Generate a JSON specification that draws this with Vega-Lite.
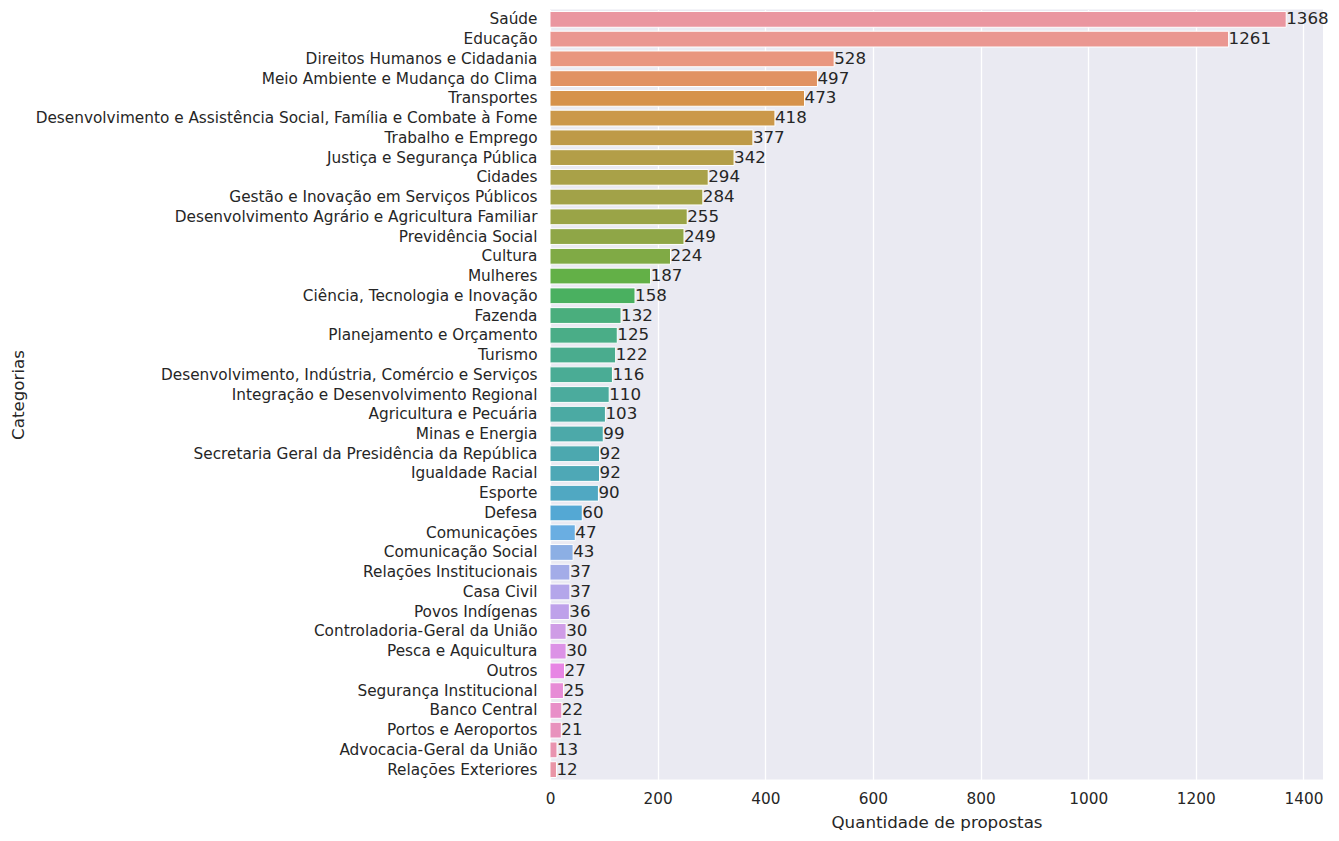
{
  "$schema": "https://vega.github.io/schema/vega-lite/v6.json",
  "width": 773,
  "height": 770,
  "autosize": "none",
  "padding": {"left": 550, "top": 9.5, "right": 16, "bottom": 61.5},
  "background": "white",
  "data": {"values": [
    {"categoria": "Saúde", "quantidade": 1368},
    {"categoria": "Educação", "quantidade": 1261},
    {"categoria": "Direitos Humanos e Cidadania", "quantidade": 528},
    {"categoria": "Meio Ambiente e Mudança do Clima", "quantidade": 497},
    {"categoria": "Transportes", "quantidade": 473},
    {"categoria": "Desenvolvimento e Assistência Social, Família e Combate à Fome", "quantidade": 418},
    {"categoria": "Trabalho e Emprego", "quantidade": 377},
    {"categoria": "Justiça e Segurança Pública", "quantidade": 342},
    {"categoria": "Cidades", "quantidade": 294},
    {"categoria": "Gestão e Inovação em Serviços Públicos", "quantidade": 284},
    {"categoria": "Desenvolvimento Agrário e Agricultura Familiar", "quantidade": 255},
    {"categoria": "Previdência Social", "quantidade": 249},
    {"categoria": "Cultura", "quantidade": 224},
    {"categoria": "Mulheres", "quantidade": 187},
    {"categoria": "Ciência, Tecnologia e Inovação", "quantidade": 158},
    {"categoria": "Fazenda", "quantidade": 132},
    {"categoria": "Planejamento e Orçamento", "quantidade": 125},
    {"categoria": "Turismo", "quantidade": 122},
    {"categoria": "Desenvolvimento, Indústria, Comércio e Serviços", "quantidade": 116},
    {"categoria": "Integração e Desenvolvimento Regional", "quantidade": 110},
    {"categoria": "Agricultura e Pecuária", "quantidade": 103},
    {"categoria": "Minas e Energia", "quantidade": 99},
    {"categoria": "Secretaria Geral da Presidência da República", "quantidade": 92},
    {"categoria": "Igualdade Racial", "quantidade": 92},
    {"categoria": "Esporte", "quantidade": 90},
    {"categoria": "Defesa", "quantidade": 60},
    {"categoria": "Comunicações", "quantidade": 47},
    {"categoria": "Comunicação Social", "quantidade": 43},
    {"categoria": "Relações Institucionais", "quantidade": 37},
    {"categoria": "Casa Civil", "quantidade": 37},
    {"categoria": "Povos Indígenas", "quantidade": 36},
    {"categoria": "Controladoria-Geral da União", "quantidade": 30},
    {"categoria": "Pesca e Aquicultura", "quantidade": 30},
    {"categoria": "Outros", "quantidade": 27},
    {"categoria": "Segurança Institucional", "quantidade": 25},
    {"categoria": "Banco Central", "quantidade": 22},
    {"categoria": "Portos e Aeroportos", "quantidade": 21},
    {"categoria": "Advocacia-Geral da União", "quantidade": 13},
    {"categoria": "Relações Exteriores", "quantidade": 12}
  ]},
  "encoding": {
    "y": {
      "field": "categoria", "type": "nominal", "sort": null,
      "scale": {"paddingInner": 0.2, "paddingOuter": 0.1},
      "axis": {
        "title": "Categorias", "ticks": false, "domain": false, "grid": false,
        "labelFont": "DejaVu Sans", "labelFontSize": 15.3, "labelColor": "#262626",
        "labelPadding": 13, "labelLimit": 0,
        "titleFont": "DejaVu Sans", "titleFontSize": 16.7, "titleFontWeight": "normal", "titleColor": "#262626",
        "titleX": -532, "titleY": 385, "titleAngle": 270, "titleBaseline": "middle", "titleAlign": "center"
      }
    },
    "x": {
      "field": "quantidade", "type": "quantitative",
      "scale": {"domain": [0, 1436.4], "nice": false, "zero": true},
      "axis": {
        "title": "Quantidade de propostas", "values": [0, 200, 400, 600, 800, 1000, 1200, 1400],
        "format": "d", "labelFlush": false, "labelOverlap": false,
        "ticks": false, "domain": false, "grid": true, "gridColor": "white", "gridWidth": 1.3,
        "labelFont": "DejaVu Sans", "labelFontSize": 15.3, "labelColor": "#262626", "labelPadding": 11.5,
        "titleFont": "DejaVu Sans", "titleFontSize": 16.7, "titleFontWeight": "normal", "titleColor": "#262626",
        "titleY": 42.5, "titleBaseline": "middle", "titleX": 386.5, "titleAlign": "center"
      }
    }
  },
  "layer": [
    {
      "mark": {"type": "bar", "stroke": "white", "strokeWidth": 1, "opacity": 1},
      "encoding": {
        "color": {
          "field": "categoria", "type": "nominal", "legend": null,
          "scale": {
            "domain": ["Saúde","Educação","Direitos Humanos e Cidadania","Meio Ambiente e Mudança do Clima","Transportes","Desenvolvimento e Assistência Social, Família e Combate à Fome","Trabalho e Emprego","Justiça e Segurança Pública","Cidades","Gestão e Inovação em Serviços Públicos","Desenvolvimento Agrário e Agricultura Familiar","Previdência Social","Cultura","Mulheres","Ciência, Tecnologia e Inovação","Fazenda","Planejamento e Orçamento","Turismo","Desenvolvimento, Indústria, Comércio e Serviços","Integração e Desenvolvimento Regional","Agricultura e Pecuária","Minas e Energia","Secretaria Geral da Presidência da República","Igualdade Racial","Esporte","Defesa","Comunicações","Comunicação Social","Relações Institucionais","Casa Civil","Povos Indígenas","Controladoria-Geral da União","Pesca e Aquicultura","Outros","Segurança Institucional","Banco Central","Portos e Aeroportos","Advocacia-Geral da União","Relações Exteriores"],
            "range": ["#EA96A0","#EA9791","#E9967F","#E19262","#D6924A","#CB984A","#BE9A48","#B39E48","#A9A148","#A2A248","#9AA447","#8FA647","#80AA45","#63B047","#4AB060","#4AAE7D","#4AAD87","#4AAC8E","#4AAC95","#4BAB9D","#4BAAA3","#4CA9A9","#4CA8AF","#4EA8B6","#50A8C2","#54A8D4","#6AAEE2","#8CAFE4","#A3ACE8","#B4A6EA","#BEA1EA","#CF9CE6","#DC92E6","#E786E4","#E78CD6","#E88FC8","#E892BD","#E994B0","#E995A7"]
          }
        }
      }
    },
    {
      "mark": {"type": "text", "align": "left", "baseline": "middle", "dx": 0, "font": "DejaVu Sans", "fontSize": 16.7, "color": "#262626"},
      "encoding": {"text": {"field": "quantidade", "type": "quantitative"}}
    }
  ],
  "config": {
    "view": {"stroke": null, "fill": "#EAEAF2"}
  }
}
